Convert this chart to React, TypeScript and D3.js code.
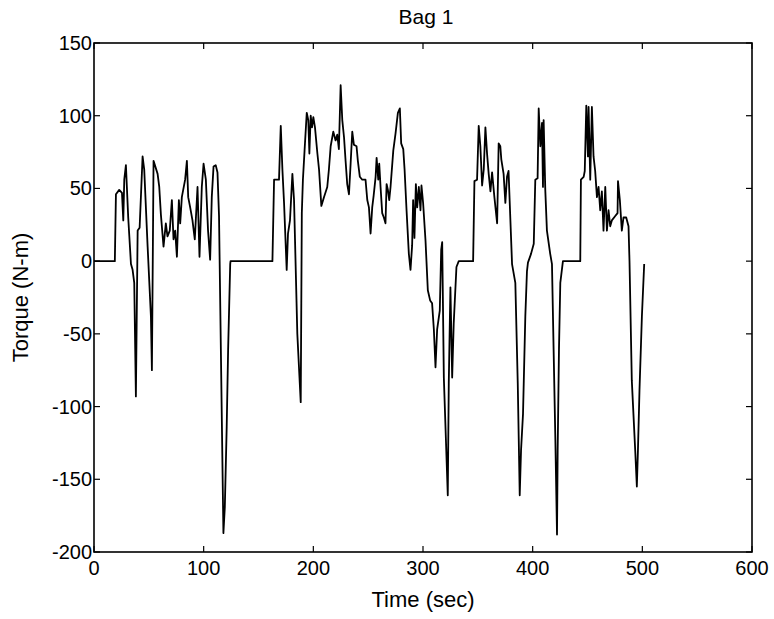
import React from "react";
import * as d3 from "d3";

const time = [
  0, 19, 20, 23, 25.5, 26.7, 27.6, 29.1, 31.2, 33.7, 35.2, 36.7, 38.2, 39.8, 41.6, 44.3, 45.8, 48.9, 51.9, 52.8,
  54.3, 58, 59.5, 61, 63.4, 65.5, 67, 69.1, 71, 72.5, 74, 75.6, 77.4, 78.6, 80.1, 83.1, 84.7, 85.9, 87.7, 89.8,
  91.9, 94.4, 96.2, 98.3, 99.9, 102, 104, 105.9, 107.4, 109, 111, 112.6, 114, 118, 119.3, 121, 122.3, 124.2, 124.5,
  162.7, 164.2, 168.7, 170.3, 171.8, 173.3, 175.7, 176.9, 178.7, 180.9, 182.4, 185.4, 188.5, 189.5, 190.5, 192, 194,
  195.4, 196.4, 197.6, 198.8, 200, 201.5, 203.7, 205.2, 207.3, 209.7, 212.7, 214.2, 215.8, 218.2, 220.3, 221.8,
  223.3, 224.9, 226.4, 228, 229.4, 230.9, 232.5, 234, 235.5, 237, 239.4, 240.6, 242.4, 244.6, 247.6, 249.2, 250.7,
  252.2, 253.7, 255, 256.8, 257.7, 259.2, 260.1, 261.3, 262.8, 264.3, 265.8, 266.8, 268, 269.2, 270.4, 272.9, 275,
  277.1, 278.9, 280.1, 282, 283.2, 285, 287.1, 288.6, 290.1, 291, 292.2, 293.5, 294.7, 296.2, 297.7, 298.6, 300.1,
  302.3, 304.4, 306.5, 308.3, 309.9, 311.4, 312.9, 315.3, 316.6, 317.5, 319, 322.6, 323.5, 325, 326.6, 328, 330.5,
  332.6, 345.7, 346.9, 349.3, 350.8, 352.3, 353.9, 355.4, 356.9, 358.4, 359.9, 361.5, 363, 365.1, 367.6, 369, 370.5,
  371.4, 373.5, 375.1, 376.6, 378, 379.7, 381.2, 384.2, 386.4, 388.2, 389.4, 391.2, 393.3, 394.8, 395.7, 398.5, 401,
  402.4, 404.5, 405.5, 407, 408.5, 409.4, 410, 411.5, 413, 416, 417.6, 419.1, 420.7, 422.2, 422.8, 424, 425.2, 427.6,
  443.4, 444, 446.5, 447.5, 448.9, 450.4, 451, 452.5, 454, 455.5, 457, 458.6, 460.1, 461.6, 463.1, 464.6, 466.2,
  467.7, 469.2, 470.7, 472.2, 475.3, 477.4, 477.8, 479.5, 481.3, 482.8, 485.3, 487.4, 488.3, 490.4, 493.5, 495, 496,
  497.4, 499.6, 501.7,
];

const torque = [
  0, 0, 46, 49, 47, 28, 56, 66, 30, -2, -6, -15, -93, 21, 23, 72, 63, 10, -38, -75,
  69, 60, 51, 32, 10, 26, 17, 21, 42, 15, 21, 3, 42, 26, 44, 56, 69, 44, 37, 28,
  15, 51, 3, 51, 67, 56, 21, 1, 44, 65, 66, 61, 31, -187, -169, -114, -61, -2, 0,
  0, 56, 56, 93, 63, 40, -6, 19, 28, 60, 42, -50, -97, 33, 56, 76, 102,
  97, 74, 100, 92, 99, 92, 74, 63, 38, 44, 51, 63, 79, 89, 83, 87,
  77, 121, 97, 85, 69, 53, 46, 67, 89, 80, 79, 69, 58, 56, 56, 42, 37,
  19, 37, 45, 58, 71, 56, 67, 51, 33, 30, 26, 53, 49, 42, 51, 76, 88,
  102, 105, 81, 77, 63, 35, 5, -6, 11, 42, 16, 53, 37, 51, 35, 52, 40,
  14, -20, -27, -29, -47, -73, -47, -34, 8, 13, -80, -161, -84, -18, -80, -43, -4,
  0, 0, 55, 56, 93, 79, 52, 63, 92, 74, 60, 48, 61, 44, 26, 81, 79,
  70, 60, 40, 58, 62, 28, -2, -15, -84, -161, -130, -105, -38, -7, -1, 5, 12,
  56, 57, 105, 79, 95, 51, 97, 49, 21, 5, -2, -61, -123, -188, -130, -60, -15, 0,
  0, 56, 58, 62, 107, 72, 106, 56, 106, 72, 62, 44, 51, 35, 48, 21, 51,
  21, 35, 24, 28, 31, 33, 55, 42, 21, 30, 30, 24, 0, -82, -130, -155, -130,
  -89, -38, -2,
];

const xTicks = [0, 100, 200, 300, 400, 500, 600];
const yTicks = [-200, -150, -100, -50, 0, 50, 100, 150];
const title = "Bag 1";
const xLabel = "Time (sec)";
const yLabel = "Torque (N-m)";

export default function App() {
  const W = 774, H = 619;
  const left = 94, right = 752, top = 43, bottom = 552;
  const x = d3.scaleLinear().domain([0, 600]).range([left, right]);
  const y = d3.scaleLinear().domain([-200, 150]).range([bottom, top]);
  const pts: [number, number][] = time.map((t, i) => [t, torque[i]]);
  const line = d3.line<[number, number]>().x(d => x(d[0])).y(d => y(d[1]));
  const font = "'Liberation Sans', Arial, Helvetica, sans-serif";
  const tl = 6;
  return (
    <svg width={W} height={H} style={{ position: "absolute", left: 0, top: 0, background: "#fff" }} fontFamily={font}>
      <rect x={0} y={0} width={W} height={H} fill="#fff" />
      <path d={line(pts) || ""} fill="none" stroke="#000" strokeWidth={1.8} strokeLinejoin="round" />
      <rect x={left} y={top} width={right - left} height={bottom - top} fill="none" stroke="#000" strokeWidth={1.6} />
      {xTicks.map(t => (
        <g key={"x" + t}>
          <line x1={x(t)} x2={x(t)} y1={bottom} y2={bottom - tl} stroke="#000" strokeWidth={1.2} />
          <line x1={x(t)} x2={x(t)} y1={top} y2={top + tl} stroke="#000" strokeWidth={1.2} />
          <text x={x(t)} y={bottom + 23} textAnchor="middle" fontSize={20}>{t}</text>
        </g>
      ))}
      {yTicks.map(t => (
        <g key={"y" + t}>
          <line x1={left} x2={left + tl} y1={y(t)} y2={y(t)} stroke="#000" strokeWidth={1.2} />
          <line x1={right} x2={right - tl} y1={y(t)} y2={y(t)} stroke="#000" strokeWidth={1.2} />
          <text x={left - 2} y={y(t) + 7} textAnchor="end" fontSize={20}>{t}</text>
        </g>
      ))}
      <text x={426} y={24} textAnchor="middle" fontSize={21}>{title}</text>
      <text x={423} y={607} textAnchor="middle" fontSize={22}>{xLabel}</text>
      <text transform={`translate(28, ${(top + bottom) / 2}) rotate(-90)`} textAnchor="middle" fontSize={22}>{yLabel}</text>
    </svg>
  );
}
